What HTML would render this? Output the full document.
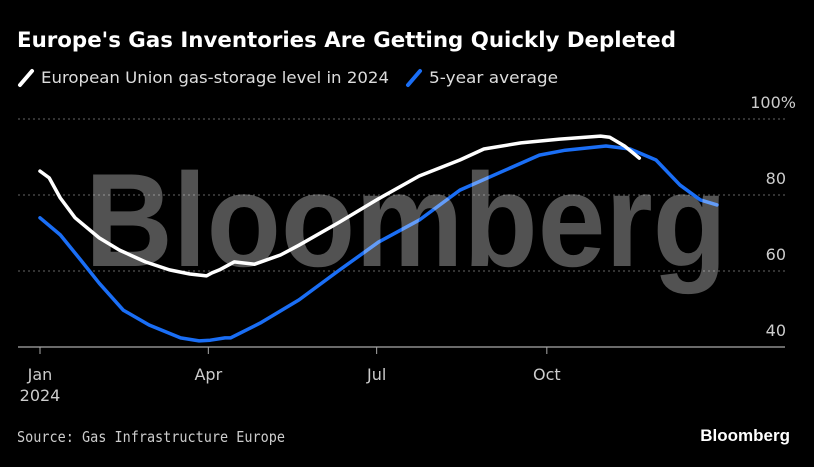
<!DOCTYPE html>
<html><head><meta charset="utf-8"><style>
html,body{margin:0;padding:0;background:#000;}
body{width:814px;height:462px;overflow:hidden;font-family:"Liberation Sans",sans-serif;}
</style></head><body>
<svg width="814" height="462" xmlns="http://www.w3.org/2000/svg" id="chart">
<rect width="814" height="462" fill="#000"/>
<text x="17" y="47" fill="#fff" font-size="21" font-weight="bold" textLength="659" lengthAdjust="spacingAndGlyphs" font-family="DejaVu Sans, sans-serif">Europe's Gas Inventories Are Getting Quickly Depleted</text>
<g>
<line x1="20" y1="85" x2="32" y2="71" stroke="#fff" stroke-width="4" stroke-linecap="round"/>
<text x="41" y="83" fill="#ddd" font-size="16" textLength="348" lengthAdjust="spacingAndGlyphs" font-family="DejaVu Sans, sans-serif">European Union gas-storage level in 2024</text>
<line x1="408" y1="85" x2="420" y2="71" stroke="#1a6ef5" stroke-width="4" stroke-linecap="round"/>
<text x="429" y="83" fill="#ddd" font-size="16" textLength="129" lengthAdjust="spacingAndGlyphs" font-family="DejaVu Sans, sans-serif">5-year average</text>
</g>
<g id="grid"></g>
<g id="series"></g>
<text x="85" y="266" fill="#fff" fill-opacity="0.32" font-size="133" font-weight="bold" textLength="642" lengthAdjust="spacingAndGlyphs">Bloomberg</text>
<g id="xaxis"></g>
<text x="17" y="442" fill="#ccc" font-size="15" textLength="268" lengthAdjust="spacingAndGlyphs" font-family="DejaVu Sans Mono, monospace">Source: Gas Infrastructure Europe</text>
<text x="790" y="441" fill="#fff" font-size="17" font-weight="bold" text-anchor="end">Bloomberg</text>
</svg>
<script>
const yTicks=[40,60,80,100];
const yTickLabels=["40","60","80","100%"];
const xTickDays=[0,91,182,274];
const xTickLabels=["Jan","Apr","Jul","Oct"];
const euDays=[0,5,11,19,32,43,57,70,81,90,93,97,105,116,130,140,162,183,205,227,240,260,281,303,308,316,324];
const euValues=[86.3,84.5,79.2,74,68.7,65.5,62.4,60.3,59.2,58.7,59.5,60.3,62.4,61.8,64.2,66.8,72.9,79,85,89.2,92.1,93.7,94.7,95.5,95.2,92.9,89.7];
const avgDays=[0,11,22,32,45,59,76,86,92,100,103,119,140,162,183,205,227,249,270,284,306,319,333,346,357,366];
const avgValues=[74,69.5,62.9,56.8,49.7,45.8,42.4,41.6,41.8,42.4,42.4,46.3,52.4,60.3,67.6,73.4,81.3,86,90.5,91.8,92.9,92.1,89.2,82.6,78.7,77.4];
const NS="http://www.w3.org/2000/svg";
function xs(d){return 40+d*(677/366);}
function ys(v){return 347-(v-40)*3.8;}
const grid=document.getElementById('grid');
yTicks.forEach((t,i)=>{
  if(t>40){const l=document.createElementNS(NS,'line');
  l.setAttribute('x1',18);l.setAttribute('x2',785);l.setAttribute('y1',ys(t));l.setAttribute('y2',ys(t));
  l.setAttribute('stroke','#666');l.setAttribute('stroke-dasharray','2,3');
  
  
  grid.appendChild(l);}
  const tx=document.createElementNS(NS,'text');
  tx.setAttribute('x',i===3?796:786);tx.setAttribute('y',ys(t)-11);tx.setAttribute('text-anchor','end');
  tx.setAttribute('fill','#ccc');tx.setAttribute('font-size','16');tx.setAttribute('font-family','DejaVu Sans, sans-serif');
  tx.textContent=yTickLabels[i];
  
  
  grid.appendChild(tx);
});
const series=document.getElementById('series');
function path(days,vals,color,name){
  const p=document.createElementNS(NS,'path');
  p.setAttribute('d',days.map((d,i)=>(i?'L':'M')+xs(d).toFixed(1)+','+ys(vals[i]).toFixed(1)).join(''));
  p.setAttribute('fill','none');p.setAttribute('stroke',color);p.setAttribute('stroke-width','3.5');
  p.setAttribute('stroke-linejoin','round');p.setAttribute('stroke-linecap','round');
  
  
  series.appendChild(p);
}
path(avgDays,avgValues,'#1a6ef5','five-year-average-line');
path(euDays,euValues,'#fff','eu-2024-line');
const xa=document.getElementById('xaxis');
const ax=document.createElementNS(NS,'line');
ax.setAttribute('x1',18);ax.setAttribute('x2',785);ax.setAttribute('y1',347);ax.setAttribute('y2',347);
ax.setAttribute('stroke','#aaa');ax.setAttribute('stroke-width','1.2');


xa.appendChild(ax);
xTickDays.forEach((d,i)=>{
  const t=document.createElementNS(NS,'line');
  t.setAttribute('x1',xs(d));t.setAttribute('x2',xs(d));t.setAttribute('y1',347);t.setAttribute('y2',354);
  t.setAttribute('stroke','#aaa');
  
  
  xa.appendChild(t);
  const tx=document.createElementNS(NS,'text');
  tx.setAttribute('x',xs(d));tx.setAttribute('y',380);tx.setAttribute('text-anchor','middle');
  tx.setAttribute('fill','#ccc');tx.setAttribute('font-size','16');tx.setAttribute('font-family','DejaVu Sans, sans-serif');
  tx.textContent=xTickLabels[i];
  
  
  xa.appendChild(tx);
});
const yr=document.createElementNS(NS,'text');
yr.setAttribute('x',40);yr.setAttribute('y',401);yr.setAttribute('text-anchor','middle');
yr.setAttribute('fill','#ccc');yr.setAttribute('font-size','16');yr.setAttribute('font-family','DejaVu Sans, sans-serif');
yr.textContent='2024';


xa.appendChild(yr);
</script>
</body></html>
